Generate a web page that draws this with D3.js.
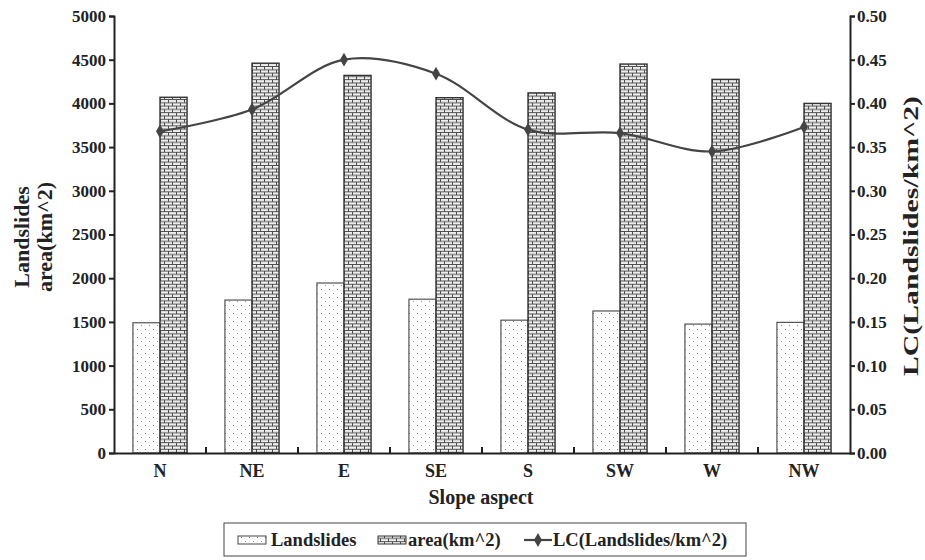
<!DOCTYPE html>
<html>
<head>
<meta charset="utf-8">
<script src="https://cdn.jsdelivr.net/npm/d3@7/dist/d3.min.js"></script>
<style>
  html, body { margin: 0; padding: 0; background: #fff; }
  svg { display: block; }
  text { font-family: "Liberation Serif", "Times New Roman", serif; font-weight: bold; fill: #222; }
</style>
</head>
<body>
<svg id="chart" width="925" height="560"></svg>
<script>
// Slope aspect classes
const categories = ["N", "NE", "E", "SE", "S", "SW", "W", "NW"];
// Landslide counts per aspect
const landslides = [1490, 1750, 1945, 1760, 1520, 1625, 1475, 1495];
// Aspect area (km^2)
const area = [4070, 4460, 4320, 4065, 4120, 4450, 4275, 4000];
// Landslide concentration (landslides / km^2)
const lc = [0.368, 0.393, 0.450, 0.434, 0.370, 0.366, 0.345, 0.373];
// Axis tick labels
const leftTicks = [0, 500, 1000, 1500, 2000, 2500, 3000, 3500, 4000, 4500, 5000];
const rightTicks = [0, 0.05, 0.10, 0.15, 0.20, 0.25, 0.30, 0.35, 0.40, 0.45, 0.50];
const seriesNames = ["Landslides", "area(km^2)", "LC(Landslides/km^2)"];

const svg = d3.select("#chart");
const margin = { left: 114, right: 850, top: 16, bottom: 453 };

// Fill patterns
const defs = svg.append("defs");
const dots = defs.append("pattern").attr("id", "dots")
  .attr("patternUnits", "userSpaceOnUse").attr("width", 8).attr("height", 8);
dots.append("rect").attr("width", 8).attr("height", 8).attr("fill", "#fff");
dots.append("rect").attr("x", 1).attr("y", 1).attr("width", 1).attr("height", 1).attr("fill", "#777");
dots.append("rect").attr("x", 5).attr("y", 5).attr("width", 1).attr("height", 1).attr("fill", "#999");

const brick = defs.append("pattern").attr("id", "brick")
  .attr("patternUnits", "userSpaceOnUse").attr("width", 8).attr("height", 6.6);
brick.append("rect").attr("width", 8).attr("height", 6.6).attr("fill", "#eee");
brick.append("path")
  .attr("d", "M0,0.5H8 M0,3.8H8 M0.5,0.5V3.8 M4.5,3.8V7.1")
  .attr("stroke", "#4a4a4a").attr("stroke-width", 1).attr("fill", "none");

const x = d3.scaleBand().domain(categories).range([margin.left, margin.right]).padding(0);
const xs = d3.scaleBand().domain(["Landslides", "area"]).range([0, x.bandwidth()])
  .paddingInner(0).paddingOuter(0.70);
const y = d3.scaleLinear().domain([0, 5000]).range([margin.bottom, margin.top]);
const y2 = d3.scaleLinear().domain([0, 0.5]).range([margin.bottom, margin.top]);

// Bars
const g = svg.append("g");
g.selectAll("rect.ls").data(landslides).join("rect").attr("class", "ls")
  .attr("x", (d, i) => x(categories[i]) + xs("Landslides"))
  .attr("y", d => y(d))
  .attr("width", xs.bandwidth())
  .attr("height", d => y(0) - y(d))
  .attr("fill", "url(#dots)").attr("stroke", "#444").attr("stroke-width", 1.1);
g.selectAll("rect.ar").data(area).join("rect").attr("class", "ar")
  .attr("x", (d, i) => x(categories[i]) + xs("area"))
  .attr("y", d => y(d))
  .attr("width", xs.bandwidth())
  .attr("height", d => y(0) - y(d))
  .attr("fill", "url(#brick)").attr("stroke", "#333").attr("stroke-width", 1.4);

// Axes
const axisStyle = sel => {
  sel.select(".domain").attr("stroke", "#222").attr("stroke-width", 2);
  sel.selectAll(".tick line").attr("stroke", "#222").attr("stroke-width", 2);
  sel.selectAll(".tick text").attr("font-size", 17).attr("font-family", "Liberation Serif").attr("font-weight", "bold").attr("fill", "#222");
};
svg.append("g").attr("transform", `translate(${margin.left},0)`)
  .call(d3.axisLeft(y).tickValues(leftTicks).tickFormat(d3.format("d")).tickSizeOuter(0).tickSize(5).tickPadding(3))
  .call(axisStyle);
svg.append("g").attr("transform", `translate(${margin.right},0)`)
  .call(d3.axisRight(y2).tickValues(rightTicks).tickFormat(d3.format(".2f")).tickSizeOuter(0).tickSize(5).tickPadding(2))
  .call(axisStyle);
const xAxis = svg.append("g").attr("transform", `translate(0,${margin.bottom})`)
  .call(d3.axisBottom(x).tickSize(0).tickPadding(12))
  .call(axisStyle);
xAxis.selectAll(".tick text").attr("font-size", 18).attr("dy", null).attr("y", 24);
// Category separator ticks pointing into the plot
svg.append("g").selectAll("line").data(categories.slice(1)).join("line")
  .attr("x1", d => x(d)).attr("x2", d => x(d))
  .attr("y1", margin.bottom).attr("y2", margin.bottom - 6)
  .attr("stroke", "#222").attr("stroke-width", 2);

// LC line
const line = d3.line()
  .x((d, i) => x(categories[i]) + x.bandwidth() / 2)
  .y(d => y2(d))
  .curve(d3.curveCatmullRom.alpha(0.5));
svg.append("path").datum(lc).attr("d", line)
  .attr("fill", "none").attr("stroke", "#444").attr("stroke-width", 2.2);
const diamond = d3.symbol().type(d3.symbolDiamond).size(55);
svg.append("g").selectAll("path").data(lc).join("path")
  .attr("transform", (d, i) => `translate(${x(categories[i]) + x.bandwidth() / 2},${y2(d)})`)
  .attr("d", diamond).attr("fill", "#444");

// Axis titles
svg.append("text").attr("transform", "translate(29,237) rotate(-90)")
  .attr("text-anchor", "middle").attr("font-size", 22).text("Landslides");
svg.append("text").attr("transform", "translate(52,237) rotate(-90)")
  .attr("text-anchor", "middle").attr("font-size", 22).text("area(km^2)");
svg.append("text").attr("transform", "translate(918,236) rotate(-90)")
  .attr("text-anchor", "middle").attr("font-size", 22)
  .attr("textLength", 280).attr("lengthAdjust", "spacingAndGlyphs").text("LC(Landslides/km^2)");
svg.append("text").attr("x", 481).attr("y", 504)
  .attr("text-anchor", "middle").attr("font-size", 20).text("Slope aspect");

// Legend
const lg = svg.append("g");
lg.append("rect").attr("x", 224).attr("y", 523).attr("width", 522).attr("height", 33)
  .attr("fill", "#fff").attr("stroke", "#444").attr("stroke-width", 1);
lg.append("rect").attr("x", 238).attr("y", 536).attr("width", 28).attr("height", 8)
  .attr("fill", "url(#dots)").attr("stroke", "#444").attr("stroke-width", 1);
lg.append("text").attr("x", 271).attr("y", 546).attr("font-size", 18.5).text(seriesNames[0]);
lg.append("rect").attr("x", 378).attr("y", 536).attr("width", 28).attr("height", 8)
  .attr("fill", "url(#brick)").attr("stroke", "#333").attr("stroke-width", 1);
lg.append("text").attr("x", 408).attr("y", 546).attr("font-size", 18.5).text(seriesNames[1]);
lg.append("line").attr("x1", 524).attr("x2", 552).attr("y1", 540).attr("y2", 540)
  .attr("stroke", "#444").attr("stroke-width", 2.2);
lg.append("path").attr("transform", "translate(538,540)").attr("d", diamond).attr("fill", "#444");
lg.append("text").attr("x", 553).attr("y", 546).attr("font-size", 18.5).text(seriesNames[2]);
</script>
</body>
</html>
